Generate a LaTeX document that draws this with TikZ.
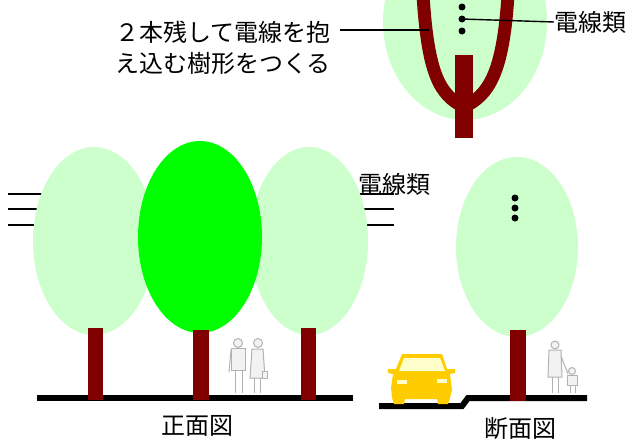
\documentclass[tikz,border=0pt]{standalone}
\usepackage{fontspec}
\newfontfamily\jpfont{Noto Sans CJK JP}
\usetikzlibrary{shapes.geometric}

\definecolor{leaf}{HTML}{CCFFCC}
\definecolor{leafbright}{HTML}{00FF00}
\definecolor{bark}{HTML}{800000}
\definecolor{carbody}{HTML}{FFCC00}
\definecolor{carglass}{HTML}{FFFFCC}

\begin{document}
\begin{tikzpicture}[x=1pt,y=-1pt,
    crown/.style ={ellipse, fill=leaf, inner sep=0pt},
    bough/.style ={bark, line width=13pt},
    ground/.style ={line width=6pt},
    wire/.style ={line width=1.6pt},
    lead/.style ={line width=1.4pt},
    dot/.style ={circle, fill=black, inner sep=0pt, minimum size=7pt},
    person/.style ={draw=gray!60, fill=gray!10, line width=1pt},
    jp/.style ={font=\jpfont\fontsize{24}{31}\selectfont, inner sep=0pt}]
   \useasboundingbox (0,0) rectangle (627,442);
   \clip (0,0) rectangle (627,442);

   % tree that holds the wires between two boughs
   \node[crown, minimum width=164pt, minimum height=196pt] (top) at (465,22) {};
   \draw[bough] (423,-5) .. controls (428,75) and (440,95) .. (464,107);
   \draw[bough] (508,-5) .. controls (503,75) and (488,95) .. (464,107);
   \fill[bark] (455,55) rectangle (473,138);
   \node[dot] (d1) at (462,7) {};
   \node[dot] (d2) at (462,19) {};
   \node[dot] (d3) at (462,31) {};
   \node[jp, anchor=west] (wiresTop) at (554,22) {電線類};
   \draw[lead] (d2.center) -- (wiresTop.west);
   \node[jp, anchor=east] (note1) at (331,32) {２本残して電線を抱};
   \node[jp, anchor=east] (note2) at (331,63) {え込む樹形をつくる};
   \coordinate (hug) at (429,30);
   \draw[lead] ([xshift=9pt,yshift=2pt]note1.east) -- (hug);

   % front view
   \foreach \y in {194,209,225} {
      \draw[wire] (8,\y) -- (70,\y);
      \draw[wire] (340,\y) -- (394,\y);
   }
   \node[crown, minimum width=122pt, minimum height=188pt] (fl) at (94,241) {};
   \node[crown, minimum width=118pt, minimum height=188pt] (fr) at (309,241) {};
   \node[crown, fill=leafbright, minimum width=124pt, minimum height=192pt] (fm) at (200,237) {};
   \node[jp, anchor=west] (wiresFront) at (358,184) {電線類};
   \draw[ground] (37,398) -- (353,398);
   \fill[bark] (88,328) rectangle (103,400);
   \fill[bark] (193,330) rectangle (209,400);
   \fill[bark] (301,328) rectangle (316,400);
   % couple
   \draw[person] (235,370) -- (235,393) (242,370) -- (242,393);
   \draw[person] (231,348) -- (245,348) -- (245,370) -- (231,370) -- cycle;
   \draw[person] (231,350) -- (229,372);
   \draw[person] (238,343) circle (4.5);
   \draw[person] (254,378) -- (254,393) (260,378) -- (260,393);
   \draw[person] (252,349) -- (263,349) -- (265,378) -- (250,378) -- cycle;
   \draw[person] (258,343) circle (4.5);
   \draw[person] (262,371) rectangle (267,378);
   \node[jp] (front) at (197,426) {正面図};

   % cross section
   \node[crown, minimum width=122pt, minimum height=180pt] (sec) at (517,247) {};
   \node[dot] (s1) at (515,198) {};
   \node[dot] (s2) at (515,208) {};
   \node[dot] (s3) at (515,218) {};
   \draw[ground] (379,406) -- (462,406) -- (468,398) -- (587,398);
   \fill[bark] (510,330) rectangle (526,401);
   % car seen from the front
   \fill[carbody] (402,354) -- (442,354) -- (447,369) -- (455,369) -- (455,373)
      -- (450,374) -- (452,390) -- (450,398) -- (448,404) -- (438,404) -- (437,399)
      -- (405,399) -- (404,404) -- (394,404) -- (392,398) -- (391,388) -- (393,374)
      -- (388,373) -- (388,369) -- (396,369) -- cycle;
   \fill[carglass] (404,358) -- (440,358) -- (445,371) -- (399,371) -- cycle;
   \fill[carglass] (397,380) rectangle (407,384);
   \fill[carglass] (437,379) rectangle (447,383);
   % woman and child
   \draw[person] (552,377) -- (552,393) (558,377) -- (558,393);
   \draw[person] (549,350) -- (561,350) -- (562,377) -- (548,377) -- cycle;
   \draw[person] (555,345) circle (4);
   \draw[person] (561,356) -- (568,374);
   \draw[person] (570,385) -- (570,393) (575,385) -- (575,393);
   \draw[person] (567,375) rectangle (577,385);
   \draw[person] (572,371) circle (3.5);
   \node[jp] (section) at (520,429) {断面図};
\end{tikzpicture}
\end{document}
